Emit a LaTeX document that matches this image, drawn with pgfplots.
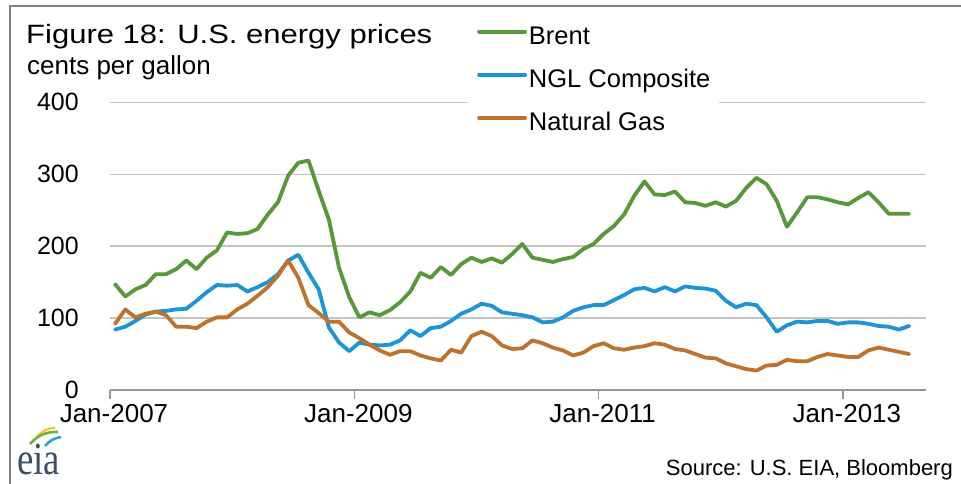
\documentclass[border=0pt]{standalone}
\usepackage{fontspec}
\setmainfont{Liberation Sans}
\newfontfamily\logofont{Liberation Serif}
\usepackage{graphicx}
\usepackage{pgfplots}
\pgfplotsset{compat=1.18}

\definecolor{brent}{RGB}{86,152,58}
\definecolor{ngl}{RGB}{29,148,214}
\definecolor{natgas}{RGB}{190,114,45}
\definecolor{gridgray}{RGB}{196,196,196}
\definecolor{axisgray}{RGB}{150,150,150}
\definecolor{framegray}{RGB}{128,128,128}
\definecolor{eiablue}{RGB}{58,80,104}
\definecolor{eiayellow}{RGB}{240,200,40}
\definecolor{eiagreen}{RGB}{110,180,60}
\definecolor{eiasky}{RGB}{40,160,220}

% monthly prices, cents per gallon; m=0 is Jan-2007
\pgfplotstableread{
m brent ngl gas
0 147 84 92
1 130 88 112
2 140 96 101
3 146 105 106
4 161 109 109
5 161 110 104
6 168 112 88
7 180 113 88
8 168 124 86
9 184 136 95
10 194 146 101
11 219 145 101
12 217 146 112
13 218 137 120
14 224 143 131
15 244 150 143
16 261 161 159
17 298 180 180
18 316 188 156
19 319 163 118
20 277 140 107
21 237 87 95
22 170 66 95
23 129 54 80
24 101 66 72
25 108 63 63
26 104 62 55
27 111 63 49
28 122 69 54
29 137 83 54
30 163 75 48
31 156 86 44
32 171 88 41
33 160 96 56
34 175 106 52
35 184 112 75
36 178 120 81
37 183 117 75
38 177 108 62
39 189 106 57
40 203 104 58
41 184 101 69
42 181 94 65
43 178 95 59
44 182 101 55
45 185 110 48
46 196 115 52
47 203 118 61
48 217 118 65
49 228 125 58
50 244 132 56
51 270 140 59
52 290 142 61
53 272 137 65
54 271 143 63
55 276 137 57
56 261 144 55
57 260 142 50
58 256 141 45
59 261 138 44
60 255 124 37
61 263 115 33
62 281 120 29
63 295 118 27
64 286 101 34
65 263 81 35
66 227 90 42
67 247 95 40
68 268 94 40
69 268 96 46
70 265 96 50
71 261 92 48
72 258 94 46
73 267 94 46
74 275 92 55
75 261 89 59
76 245 88 56
77 245 84 53
78 245 89 50
}\prices

\begin{document}
\begin{tikzpicture}[x=1pt,y=1pt]
\useasboundingbox (0,0) rectangle (961,484);
\fill[white] (0,0) rectangle (961,484);
\draw[framegray, line width=1.7pt] (10,0) -- (10,478) -- (962,478);

\node[anchor=base west, inner sep=0pt, font=\fontsize{26.5}{30}\selectfont]
  at (26,440.7) {\scalebox{1.17}[1]{Figure 18: U.S. energy prices}};
\node[anchor=base west, inner sep=0pt, font=\fontsize{26}{30}\selectfont]
  at (27,409) {cents per gallon};
\node[anchor=base east, inner sep=0pt, font=\fontsize{22}{26}\selectfont]
  at (953,8) {Source: U.S. EIA, Bloomberg};

% eia logo
\node[anchor=base west, inner sep=0pt, text=eiablue, font=\logofont\fontsize{46}{50}\selectfont]
  at (17,9) {\scalebox{0.8}[1]{eia}};
\draw[eiayellow, line width=2.2pt] (37,47) to[bend left=25] (55,56);
\draw[eiagreen, line width=2.6pt] (30,40) to[bend left=25] (58,52);
\draw[eiasky, line width=2.6pt] (45,38) to[bend left=20] (61,47);

\begin{axis}[
  at={(110pt,94pt)}, anchor=south west,
  scale only axis, width=816pt, height=287.7pt,
  xmin=-0.5, xmax=79.66, ymin=0, ymax=400,
  clip=false,
  axis lines*=left,
  axis line style={-},
  y axis line style={draw=none},
  x axis line style={axisgray, line width=1.6pt},
  xtick={-0.5,23.5,47.5,71.5},
  xticklabels={Jan-2007,Jan-2009,Jan-2011,Jan-2013},
  ytick={0,100,200,300,400},
  tick align=outside,
  major tick length=9pt,
  xtick style={axisgray, line width=1.3pt},
  ytick style={draw=none},
  ymajorgrids=true,
  grid style={gridgray, line width=1.3pt},
  /pgf/number format/assume math mode=true,
  xticklabel style={font=\fontsize{26}{30}\selectfont, anchor=north, inner sep=0pt, yshift=-5pt, xshift=4pt},
  yticklabel style={font=\fontsize{25}{30}\selectfont, anchor=east, inner sep=0pt, xshift=-22pt},
  legend style={at={(0.4387,1.2826)}, anchor=north west, draw=none, fill=white,
    inner xsep=9pt, inner ysep=4pt, row sep=18pt, column sep=2pt,
    font=\fontsize{25.5}{30}\selectfont,
    nodes={inner sep=0pt, text height=19pt, text depth=6pt},
    /tikz/every even column/.append style={column sep=2pt}},
  legend cell align=left,
  legend image code/.code={\draw[#1, line width=3.8pt] (0pt,6pt) -- (46pt,6pt);},
  every axis plot/.append style={line width=3.8pt, line join=round, line cap=round, mark=none},
]
\addplot[brent] table[x=m, y=brent] {\prices};
\addplot[ngl] table[x=m, y=ngl] {\prices};
\addplot[natgas] table[x=m, y=gas] {\prices};
\legend{Brent, NGL Composite, Natural Gas}
\end{axis}
\end{tikzpicture}
\end{document}
